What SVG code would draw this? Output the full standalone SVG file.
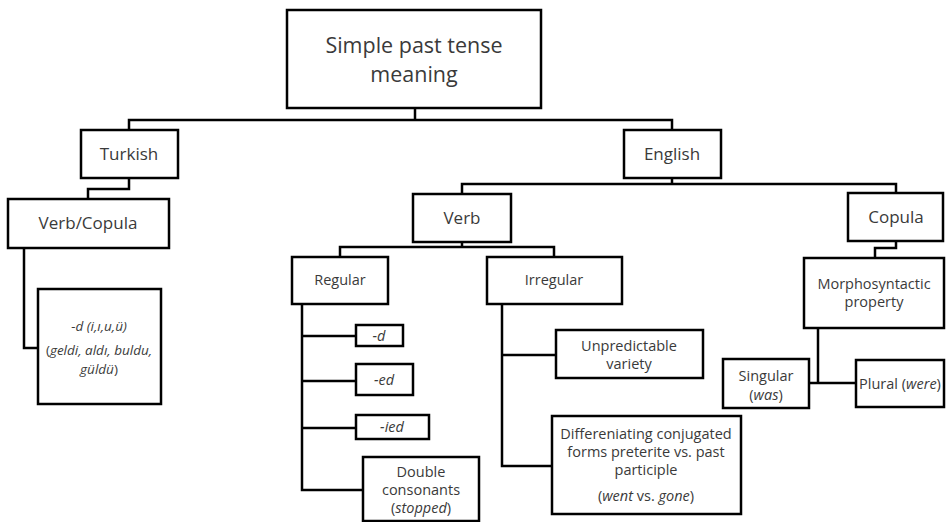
<svg xmlns="http://www.w3.org/2000/svg" width="946" height="522" viewBox="0 0 946 522">
<style>
.box{fill:#fff;stroke:#000;stroke-width:2.5}
.c{fill:none;stroke:#000;stroke-width:2.5}
text{font-family:"Open Sans","DejaVu Sans",sans-serif;fill:#3a3a3a;text-anchor:middle}
.xl{font-size:21.5px}
.l{font-size:17px}
.s{font-size:14.5px}
.t{font-size:13.5px}
.i{font-style:italic}
</style>
<rect width="946" height="522" fill="#fff"/>
<g id="connectors">
<polyline class="c" points="415,108 415,120"/>
<polyline class="c" points="129,130 129,120 672,120 672,130"/>
<polyline class="c" points="129,178 129,189 88,189 88,199"/>
<polyline class="c" points="24,248 24,348 38,348"/>
<polyline class="c" points="672,178 672,184"/>
<polyline class="c" points="462,194 462,184 896,184 896,193"/>
<polyline class="c" points="462,242 462,247"/>
<polyline class="c" points="340,257 340,247 554,247 554,257"/>
<polyline class="c" points="302,304 302,490 363,490"/>
<polyline class="c" points="302,336 356,336"/>
<polyline class="c" points="302,381 356,381"/>
<polyline class="c" points="302,428 356,428"/>
<polyline class="c" points="502,304 502,466 552,466"/>
<polyline class="c" points="502,355 556,355"/>
<polyline class="c" points="896,241 896,248 875,248 875,258"/>
<polyline class="c" points="818,328 818,383"/>
<polyline class="c" points="809,383 856,383"/>
</g>
<g id="root">
<rect class="box" x="287" y="10" width="254" height="98"/>
<text class="xl" x="414" y="53">Simple past tense</text>
<text class="xl" x="414" y="82">meaning</text>
</g>
<g id="turkish">
<rect class="box" x="81" y="130" width="97" height="48"/>
<text class="l" x="129" y="160">Turkish</text>
</g>
<g id="verb-copula">
<rect class="box" x="8" y="199" width="161" height="49"/>
<text class="l" x="88" y="229">Verb/Copula</text>
</g>
<g id="turkish-d">
<rect class="box" x="38" y="289" width="123" height="115"/>
<text class="t i" x="99" y="331">-d (i,ı,u,ü)</text>
<text class="t" x="99" y="355">(<tspan class="i">geldi, aldı, buldu,</tspan></text>
<text class="t" x="99" y="374"><tspan class="i">güldü</tspan>)</text>
</g>
<g id="english">
<rect class="box" x="624" y="130" width="97" height="48"/>
<text class="l" x="672" y="160">English</text>
</g>
<g id="verb">
<rect class="box" x="413" y="194" width="98" height="48"/>
<text class="l" x="462" y="224">Verb</text>
</g>
<g id="copula">
<rect class="box" x="848" y="193" width="95" height="48"/>
<text class="l" x="896" y="223">Copula</text>
</g>
<g id="regular">
<rect class="box" x="292" y="257" width="96" height="47"/>
<text class="s" x="340" y="285">Regular</text>
</g>
<g id="irregular">
<rect class="box" x="487" y="257" width="135" height="47"/>
<text class="s" x="554" y="285">Irregular</text>
</g>
<g id="d">
<rect class="box" x="356" y="325" width="47" height="21"/>
<text class="s i" x="379" y="341">-d</text>
</g>
<g id="ed">
<rect class="box" x="356" y="364" width="57" height="31"/>
<text class="s i" x="384" y="385">-ed</text>
</g>
<g id="ied">
<rect class="box" x="356" y="415" width="73" height="24"/>
<text class="s i" x="392" y="432">-ied</text>
</g>
<g id="double">
<rect class="box" x="363" y="457" width="116" height="64"/>
<text class="s" x="421" y="477">Double</text>
<text class="s" x="421" y="495">consonants</text>
<text class="s" x="421" y="513">(<tspan class="i">stopped</tspan>)</text>
</g>
<g id="unpredictable">
<rect class="box" x="556" y="330" width="147" height="48"/>
<text class="s" x="629" y="351">Unpredictable</text>
<text class="s" x="629" y="369">variety</text>
</g>
<g id="differentiating">
<rect class="box" x="552" y="416" width="189" height="98"/>
<text class="s" x="646" y="439">Differeniating conjugated</text>
<text class="s" x="646" y="457">forms preterite vs. past</text>
<text class="s" x="646" y="475">participle</text>
<text class="s" x="646" y="501">(<tspan class="i">went</tspan> vs. <tspan class="i">gone</tspan>)</text>
</g>
<g id="morphosyntactic">
<rect class="box" x="804" y="258" width="140" height="70"/>
<text class="s" x="874" y="289">Morphosyntactic</text>
<text class="s" x="874" y="307">property</text>
</g>
<g id="singular">
<rect class="box" x="723" y="359" width="86" height="49"/>
<text class="s" x="766" y="381">Singular</text>
<text class="s" x="766" y="400">(<tspan class="i">was</tspan>)</text>
</g>
<g id="plural">
<rect class="box" x="856" y="360" width="88" height="47"/>
<text class="s" x="900" y="389">Plural (<tspan class="i">were</tspan>)</text>
</g>
</svg>
